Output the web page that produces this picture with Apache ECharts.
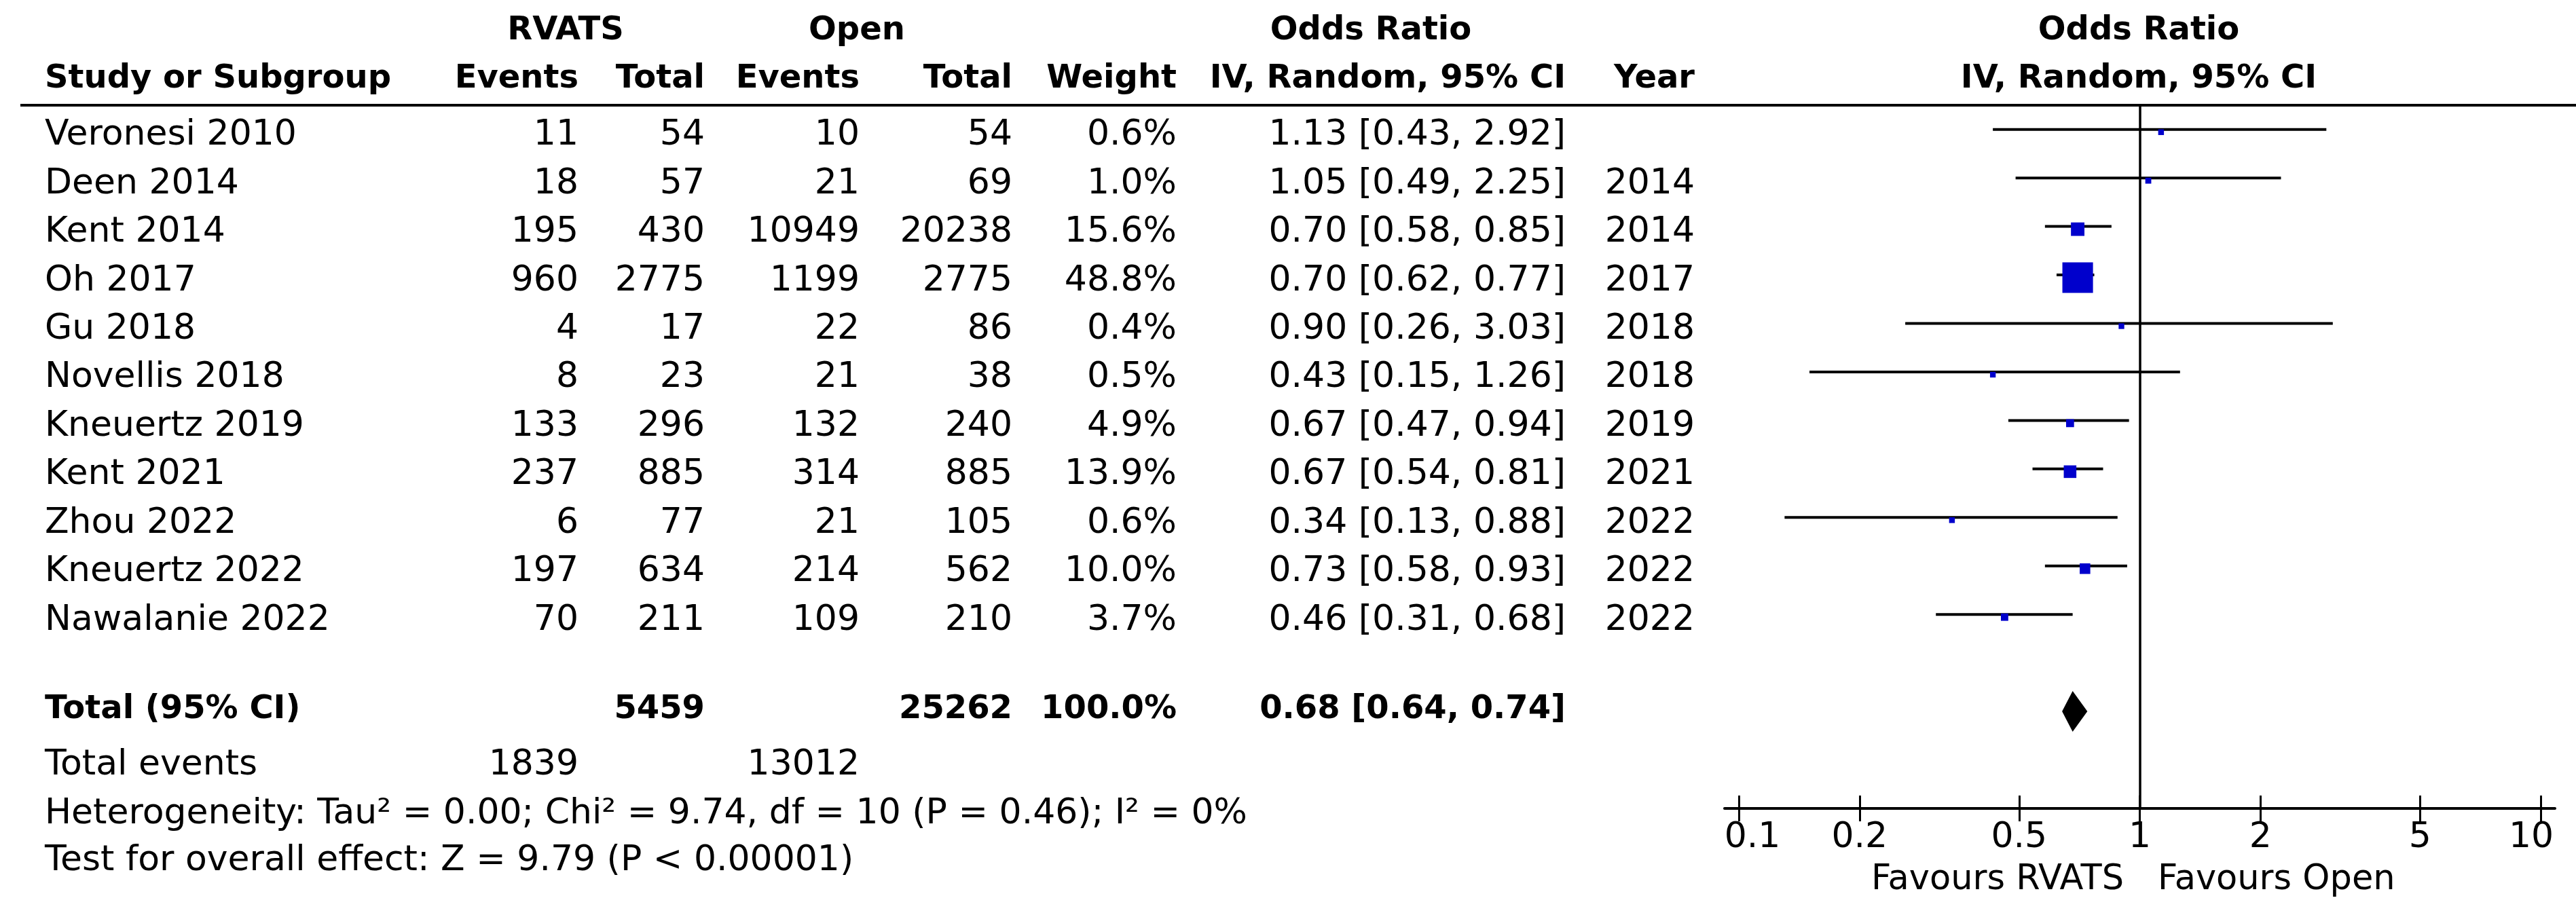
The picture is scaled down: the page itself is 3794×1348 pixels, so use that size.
<!DOCTYPE html>
<html>
<head>
<meta charset="utf-8">
<script src="https://cdn.jsdelivr.net/npm/echarts@6/dist/echarts.min.js"></script>
<style>
html, body { margin: 0; padding: 0; background: #ffffff; }
#chart { width: 3794px; height: 1348px; }
</style>
</head>
<body>
<div id="chart"></div>
<script>
// ---------------- data ----------------
const studies = ['Veronesi 2010', 'Deen 2014', 'Kent 2014', 'Oh 2017', 'Gu 2018', 'Novellis 2018',
  'Kneuertz 2019', 'Kent 2021', 'Zhou 2022', 'Kneuertz 2022', 'Nawalanie 2022'];
const rvatsEvents = [11, 18, 195, 960, 4, 8, 133, 237, 6, 197, 70];
const rvatsTotal = [54, 57, 430, 2775, 17, 23, 296, 885, 77, 634, 211];
const openEvents = [10, 21, 10949, 1199, 22, 21, 132, 314, 21, 214, 109];
const openTotal = [54, 69, 20238, 2775, 86, 38, 240, 885, 105, 562, 210];
const weights = [0.6, 1.0, 15.6, 48.8, 0.4, 0.5, 4.9, 13.9, 0.6, 10.0, 3.7];
const oddsRatio = [1.13, 1.05, 0.70, 0.70, 0.90, 0.43, 0.67, 0.67, 0.34, 0.73, 0.46];
const ciLow = [0.43, 0.49, 0.58, 0.62, 0.26, 0.15, 0.47, 0.54, 0.13, 0.58, 0.31];
const ciHigh = [2.92, 2.25, 0.85, 0.77, 3.03, 1.26, 0.94, 0.81, 0.88, 0.93, 0.68];
const years = ['', '2014', '2014', '2017', '2018', '2018', '2019', '2021', '2022', '2022', '2022'];

const totalRvats = 5459;
const totalOpen = 25262;
const totalWeight = 100.0;
const pooledOR = 0.68;
const pooledLow = 0.64;
const pooledHigh = 0.74;
const eventsRvats = 1839;
const eventsOpen = 13012;
const heterogeneityText = 'Heterogeneity: Tau² = 0.00; Chi² = 9.74, df = 10 (P = 0.46); I² = 0%';
const overallText = 'Test for overall effect: Z = 9.79 (P < 0.00001)';

const tickValues = [0.1, 0.2, 0.5, 1, 2, 5, 10];
const tickLabels = ['0.1', '0.2', '0.5', '1', '2', '5', '10'];

// ---------------- layout / style ----------------
const FAM = '"DejaVu Sans", Verdana, sans-serif';
const REG = '52px ' + FAM;
const BOLD = 'bold 48px ' + FAM;
const GRID_TOP = 155, GRID_BOTTOM = 1191;
const Y_MIN = -0.5, Y_MAX = 14;
const ROW_H = (GRID_BOTTOM - GRID_TOP) / (Y_MAX - Y_MIN);
const TOTAL_ROW = 12;
const textRowY = i => GRID_TOP + (i - Y_MIN) * ROW_H + 9;

const COL = { study: 66, evR: 852, totR: 1038, evO: 1266, totO: 1491, wt: 1733, ci: 2306, yr: 2496 };

function txt(text, x, y, align, font) {
  return {
    type: 'text', silent: true,
    style: {
      text: String(text), x: x, y: y, font: font || REG, fill: '#000',
      align: align || 'left', verticalAlign: 'middle',
      textAlign: align || 'left', textVerticalAlign: 'middle'
    }
  };
}
const fmt2 = v => v.toFixed(2);
const ciText = (o, l, h) => fmt2(o) + ' [' + fmt2(l) + ', ' + fmt2(h) + ']';

const graphics = [];
// header
graphics.push(txt('RVATS', 833, 46, 'center', BOLD));
graphics.push(txt('Open', 1262, 46, 'center', BOLD));
graphics.push(txt('Odds Ratio', 2019, 46, 'center', BOLD));
graphics.push(txt('Study or Subgroup', COL.study, 117, 'left', BOLD));
graphics.push(txt('Events', COL.evR, 117, 'right', BOLD));
graphics.push(txt('Total', COL.totR, 117, 'right', BOLD));
graphics.push(txt('Events', COL.evO, 117, 'right', BOLD));
graphics.push(txt('Total', COL.totO, 117, 'right', BOLD));
graphics.push(txt('Weight', COL.wt, 117, 'right', BOLD));
graphics.push(txt('IV, Random, 95% CI', COL.ci, 117, 'right', BOLD));
graphics.push(txt('Year', COL.yr, 117, 'right', BOLD));
graphics.push(txt('Odds Ratio', 3150, 46, 'center', BOLD));
graphics.push(txt('IV, Random, 95% CI', 3150, 117, 'center', BOLD));
graphics.push({ type: 'line', silent: true, shape: { x1: 30, y1: GRID_TOP, x2: 3794, y2: GRID_TOP },
  style: { stroke: '#000', lineWidth: 4 } });

// study rows
studies.forEach((s, i) => {
  const y = textRowY(i);
  graphics.push(txt(s, COL.study, y, 'left'));
  graphics.push(txt(rvatsEvents[i], COL.evR, y, 'right'));
  graphics.push(txt(rvatsTotal[i], COL.totR, y, 'right'));
  graphics.push(txt(openEvents[i], COL.evO, y, 'right'));
  graphics.push(txt(openTotal[i], COL.totO, y, 'right'));
  graphics.push(txt(weights[i].toFixed(1) + '%', COL.wt, y, 'right'));
  graphics.push(txt(ciText(oddsRatio[i], ciLow[i], ciHigh[i]), COL.ci, y, 'right'));
  if (years[i]) graphics.push(txt(years[i], COL.yr, y, 'right'));
});

// totals
graphics.push(txt('Total (95% CI)', COL.study, 1046, 'left', BOLD));
graphics.push(txt(totalRvats, COL.totR, 1046, 'right', BOLD));
graphics.push(txt(totalOpen, COL.totO, 1046, 'right', BOLD));
graphics.push(txt(totalWeight.toFixed(1) + '%', COL.wt, 1046, 'right', BOLD));
graphics.push(txt(ciText(pooledOR, pooledLow, pooledHigh), COL.ci, 1046, 'right', BOLD));
graphics.push(txt('Total events', COL.study, 1127, 'left'));
graphics.push(txt(eventsRvats, COL.evR, 1127, 'right'));
graphics.push(txt(eventsOpen, COL.evO, 1127, 'right'));
graphics.push(txt(heterogeneityText, COL.study, 1199, 'left'));
graphics.push(txt(overallText, COL.study, 1268, 'left'));

// favours labels
graphics.push(txt('Favours RVATS', 3128, 1297, 'right', '51px ' + FAM));
graphics.push(txt('Favours Open', 3178, 1297, 'left', '51px ' + FAM));

// ---------------- chart ----------------
const studyData = studies.map((s, i) => [ciLow[i], ciHigh[i], oddsRatio[i], i, weights[i]]);
const pooledData = [[pooledLow, pooledHigh, pooledOR, TOTAL_ROW]];

function tickLabelFormatter(v) {
  let idx = 0, best = Infinity;
  tickValues.forEach((t, i) => { const d = Math.abs(Math.log(t) - Math.log(v)); if (d < best) { best = d; idx = i; } });
  if (idx === 0) return '{l|' + tickLabels[idx] + '}';
  if (idx === tickValues.length - 1) return '{r|' + tickLabels[idx] + '}';
  return '{n|' + tickLabels[idx] + '}';
}

const AX_MIN = 0.0921, AX_MAX = 10.855;
const labelRich = {
  n: { fontSize: 52, fontFamily: FAM, color: '#000' },
  l: { fontSize: 52, fontFamily: FAM, color: '#000', padding: [0, 0, 0, 40] },
  r: { fontSize: 52, fontFamily: FAM, color: '#000', padding: [0, 28, 0, 0] }
};

const chart = echarts.init(document.getElementById('chart'), null, { renderer: 'canvas' });
chart.setOption({
  animation: false,
  backgroundColor: '#ffffff',
  grid: { left: 2540, width: 1223, top: GRID_TOP, height: GRID_BOTTOM - GRID_TOP, containLabel: false },
  xAxis: [{
    type: 'log', logBase: 10, min: AX_MIN, max: AX_MAX, position: 'bottom',
    axisLine: { show: true, onZero: false, lineStyle: { color: '#000', width: 4 } },
    axisTick: { show: true, inside: false, length: 19, customValues: tickValues, lineStyle: { color: '#000', width: 3 } },
    axisLabel: { show: true, customValues: tickValues, margin: 17, formatter: tickLabelFormatter, rich: labelRich,
      fontSize: 52, fontFamily: FAM, color: '#000' },
    splitLine: { show: false }, minorTick: { show: false }
  }, {
    type: 'log', logBase: 10, min: AX_MIN, max: AX_MAX, position: 'bottom',
    axisLine: { show: false, onZero: false },
    axisTick: { show: true, inside: true, length: 19, customValues: tickValues, lineStyle: { color: '#000', width: 3 } },
    axisLabel: { show: false },
    splitLine: { show: false }, minorTick: { show: false }
  }],
  yAxis: { type: 'value', min: Y_MIN, max: Y_MAX, inverse: true, show: false, splitLine: { show: false } },
  graphic: graphics,
  series: [{
    type: 'custom', name: 'studies', xAxisIndex: 0, yAxisIndex: 0, clip: false, silent: true,
    encode: { x: [0, 1, 2], y: 3 },
    data: studyData,
    renderItem: function (params, api) {
      const lo = api.coord([api.value(0), api.value(3)]);
      const hi = api.coord([api.value(1), api.value(3)]);
      const c = api.coord([api.value(2), api.value(3)]);
      const s = 8 + 0.76 * api.value(4);
      return {
        type: 'group', children: [
          { type: 'line', shape: { x1: lo[0], y1: lo[1], x2: hi[0], y2: hi[1] }, style: { stroke: '#000', lineWidth: 4 } },
          { type: 'rect', shape: { x: c[0] - s / 2, y: c[1] + 4 - s / 2, width: s, height: s }, style: { fill: '#0000CC' } }
        ]
      };
    },
    markLine: {
      silent: true, symbol: 'none', label: { show: false },
      lineStyle: { color: '#000', width: 3.5, type: 'solid' },
      data: [{ xAxis: 1 }]
    }
  }, {
    type: 'custom', name: 'pooled', xAxisIndex: 0, yAxisIndex: 0, clip: false, silent: true,
    encode: { x: [0, 1, 2], y: 3 },
    data: pooledData,
    renderItem: function (params, api) {
      const lo = api.coord([api.value(0), api.value(3)]);
      const hi = api.coord([api.value(1), api.value(3)]);
      const c = api.coord([api.value(2), api.value(3)]);
      const h = 30;
      return {
        type: 'polygon',
        shape: { points: [[lo[0], c[1]], [c[0], c[1] - h], [hi[0], c[1]], [c[0], c[1] + h]] },
        style: { fill: '#000' }
      };
    }
  }]
});
</script>
</body>
</html>
